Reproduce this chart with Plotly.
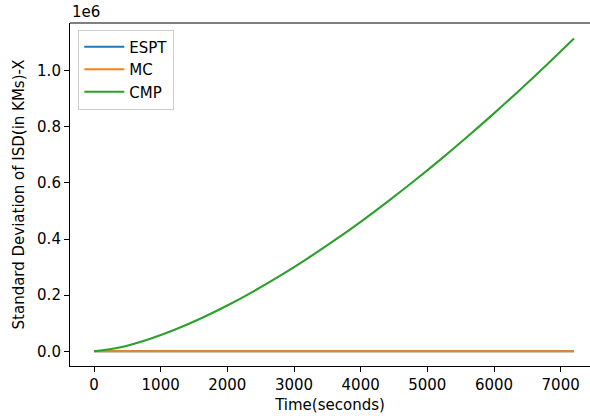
import plotly.graph_objects as go

# Data
time_s = [0, 400, 800, 1200, 1600, 2000, 2400, 2800, 3200, 3600, 4000,
          4400, 4800, 5200, 5600, 6000, 6400, 6800, 7200]
espt = [0] * len(time_s)
mc = [0] * len(time_s)
cmp_vals = [0, 14600, 41300, 75900, 116800, 163200, 214600, 270400, 330400,
            394200, 461700, 532700, 606900, 684300, 764800, 848200, 934400,
            1023400, 1115000]

x_ticks = [0, 1000, 2000, 3000, 4000, 5000, 6000, 7000]
y_ticks = [0, 200000, 400000, 600000, 800000, 1000000]
y_tick_labels = ["0.0", "0.2", "0.4", "0.6", "0.8", "1.0"]

series = [("ESPT", espt, "#1f77b4"), ("MC", mc, "#ff7f0e"), ("CMP", cmp_vals, "#2ca02c")]

fig = go.Figure()
for name, vals, color in series:
    fig.add_trace(go.Scatter(x=time_s, y=vals, mode="lines", name=name,
                             line=dict(color=color, width=2.1, shape="spline")))

font_family = "DejaVu Sans"
fs = 15
fig.update_layout(
    width=590, height=419,
    margin=dict(l=70, r=0, t=23, b=53),
    paper_bgcolor="white", plot_bgcolor="white",
    font=dict(family=font_family, size=fs, color="black"),
    showlegend=True,
    legend=dict(x=0.016, y=0.981, xanchor="left", yanchor="top",
                bgcolor="white", bordercolor="#d0d0d0", borderwidth=1,
                itemwidth=40,
                font=dict(size=fs, family=font_family)),
    xaxis=dict(range=[-360, 7440], tickvals=x_ticks, showgrid=False, zeroline=False,
               showline=True, linecolor="black", linewidth=1.1,
               ticks="outside", ticklen=5, tickwidth=1.1, tickcolor="black",
               tickfont=dict(size=fs),
               title=dict(text="Time(seconds)", standoff=6, font=dict(size=fs))),
    yaxis=dict(range=[-52500, 1170400], tickvals=y_ticks, ticktext=y_tick_labels,
               showgrid=False, zeroline=False,
               showline=True, linecolor="black", linewidth=1.1,
               ticks="outside", ticklen=5, tickwidth=1.1, tickcolor="black",
               tickfont=dict(size=fs),
               title=dict(text="Standard Deviation of ISD(in KMs)-X", standoff=8,
                          font=dict(size=fs))),
)

fig.add_shape(type="line", xref="paper", yref="paper", x0=0, x1=1, y0=1, y1=1,
              line=dict(color="black", width=1.1))
fig.add_annotation(text="1e6", xref="paper", yref="paper", x=0, y=1, xanchor="left",
                   yanchor="bottom", showarrow=False, yshift=0,
                   font=dict(size=fs, family=font_family))

fig.write_html("out.html")
